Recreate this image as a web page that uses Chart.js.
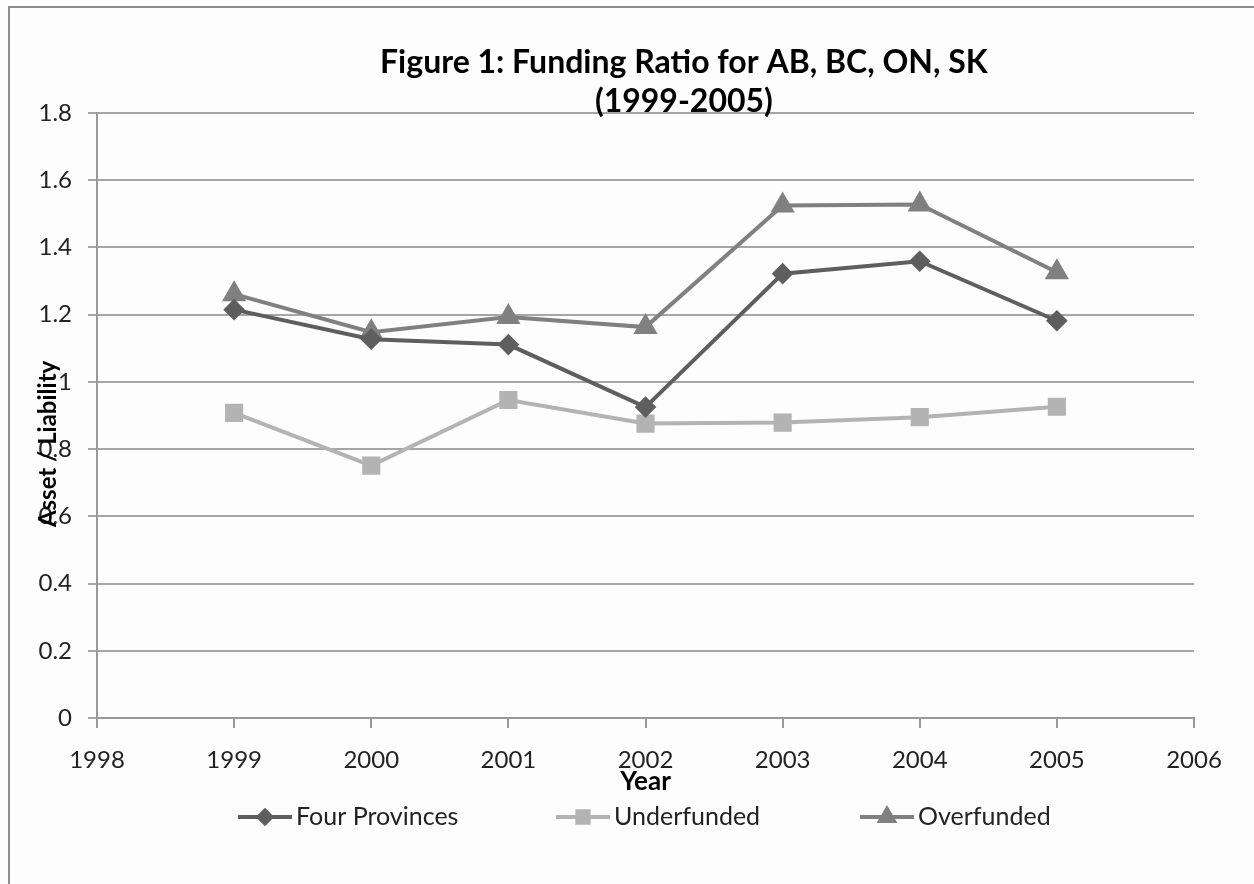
<!DOCTYPE html>
<html>
<head>
<meta charset="utf-8">
<script src="https://cdn.jsdelivr.net/npm/chart.js@4"></script>
<style>
  body { margin: 0; background: #fff; }
</style>
</head>
<body>
<canvas id="c" width="1254" height="884"></canvas>
<script>
const years = [1999, 2000, 2001, 2002, 2003, 2004, 2005];
const fourProvinces = [1.215, 1.127, 1.111, 0.925, 1.322, 1.359, 1.182];
const underfunded = [0.908, 0.751, 0.946, 0.876, 0.879, 0.895, 0.926];
const overfunded = [1.261, 1.148, 1.193, 1.163, 1.525, 1.528, 1.326];

const titleLines = ['Figure 1: Funding Ratio for AB, BC, ON, SK', '(1999-2005)'];
const FONT = 'Lato, "Open Sans", sans-serif';

const pts = vals => vals.map((v, i) => ({ x: years[i], y: v }));

// frame, title, y axis label and the legend are drawn by hand
const extras = {
  id: 'extras',
  beforeDraw(chart) {
    const ctx = chart.ctx;
    ctx.save();
    ctx.fillStyle = '#fdfdfd';
    ctx.fillRect(0, 0, chart.width, chart.height);
    ctx.strokeStyle = '#8c8c8c';
    ctx.lineWidth = 2;
    ctx.beginPath();
    ctx.moveTo(9, chart.height);
    ctx.lineTo(9, 7);
    ctx.lineTo(chart.width, 7);
    ctx.stroke();
    ctx.restore();
  },
  afterDraw(chart) {
    const ctx = chart.ctx;
    const area = chart.chartArea;
    ctx.save();
    ctx.fillStyle = '#000';
    ctx.textAlign = 'center';
    ctx.textBaseline = 'middle';
    ctx.font = 'bold 32px ' + FONT;
    const tx = area.left + area.width * 0.535;
    ctx.fillText(titleLines[0], tx, 63);
    ctx.fillText(titleLines[1], tx, 102);

    ctx.font = 'bold 24px ' + FONT;
    ctx.translate(area.left - 49, area.top + area.height * 0.547);
    ctx.rotate(-Math.PI / 2);
    ctx.fillText('Asset / Liability', 0, 0);
    ctx.restore();

    // legend: line with marker, then label
    const starts = [238, 556, 860];
    const ly = 817;
    ctx.save();
    ctx.font = '25px ' + FONT;
    ctx.textBaseline = 'middle';
    ctx.textAlign = 'left';
    chart.data.datasets.forEach((ds, i) => {
      const x0 = starts[i];
      ctx.strokeStyle = ds.borderColor;
      ctx.lineWidth = 4;
      ctx.beginPath();
      ctx.moveTo(x0, ly);
      ctx.lineTo(x0 + 54, ly);
      ctx.stroke();
      ctx.fillStyle = ds.pointBackgroundColor;
      ctx.strokeStyle = ds.pointBackgroundColor;
      Chart.helpers.drawPoint(ctx, {
        pointStyle: ds.pointStyle, radius: ds.pointRadius * 0.8, borderWidth: 1, rotation: 0
      }, x0 + 27, ly);
      ctx.fillStyle = '#222';
      ctx.fillText(ds.label, x0 + 58, ly);
    });
    ctx.restore();
  }
};

new Chart(document.getElementById('c'), {
  type: 'line',
  data: {
    datasets: [
      {
        label: 'Four Provinces', data: pts(fourProvinces),
        borderColor: '#5e5e5e', backgroundColor: '#5e5e5e',
        pointBackgroundColor: '#5e5e5e', pointBorderColor: '#5e5e5e',
        pointStyle: 'rectRot', pointRadius: 8, borderWidth: 4
      },
      {
        label: 'Underfunded', data: pts(underfunded),
        borderColor: '#b3b3b3', backgroundColor: '#b3b3b3',
        pointBackgroundColor: '#b3b3b3', pointBorderColor: '#b3b3b3',
        pointStyle: 'rect', pointRadius: 10, borderWidth: 4
      },
      {
        label: 'Overfunded', data: pts(overfunded),
        borderColor: '#808080', backgroundColor: '#808080',
        pointBackgroundColor: '#808080', pointBorderColor: '#808080',
        pointStyle: 'triangle', pointRadius: 10, borderWidth: 4
      }
    ]
  },
  options: {
    responsive: false,
    animation: false,
    layout: { padding: { left: 0, top: 113, right: 60, bottom: 0 } },
    plugins: {
      legend: { display: false },
      title: { display: false },
      tooltip: { enabled: false }
    },
    scales: {
      x: {
        type: 'linear', min: 1998, max: 2006,
        afterFit: s => { s.height = 166; },
        ticks: {
          stepSize: 1, padding: 18, color: '#222',
          font: { family: FONT, size: 24 },
          callback: v => String(v)
        },
        grid: { drawOnChartArea: false, drawTicks: true, tickLength: 10, color: '#999', lineWidth: 2 },
        border: { color: '#999', width: 2 },
        title: {
          display: true, text: 'Year', color: '#000',
          font: { family: FONT, size: 26, weight: 'bold' },
          padding: { top: 0, bottom: 87 }
        }
      },
      y: {
        min: 0, max: 1.8,
        afterFit: s => { s.width = 97; },
        ticks: {
          stepSize: 0.2, padding: 16, color: '#222',
          font: { family: FONT, size: 24 },
          callback: v => String(Number(v.toFixed(1)))
        },
        grid: { color: '#a6a6a6', lineWidth: 2, tickLength: 9 },
        border: { color: '#999', width: 2 }
      }
    }
  },
  plugins: [extras]
});
</script>
</body>
</html>
